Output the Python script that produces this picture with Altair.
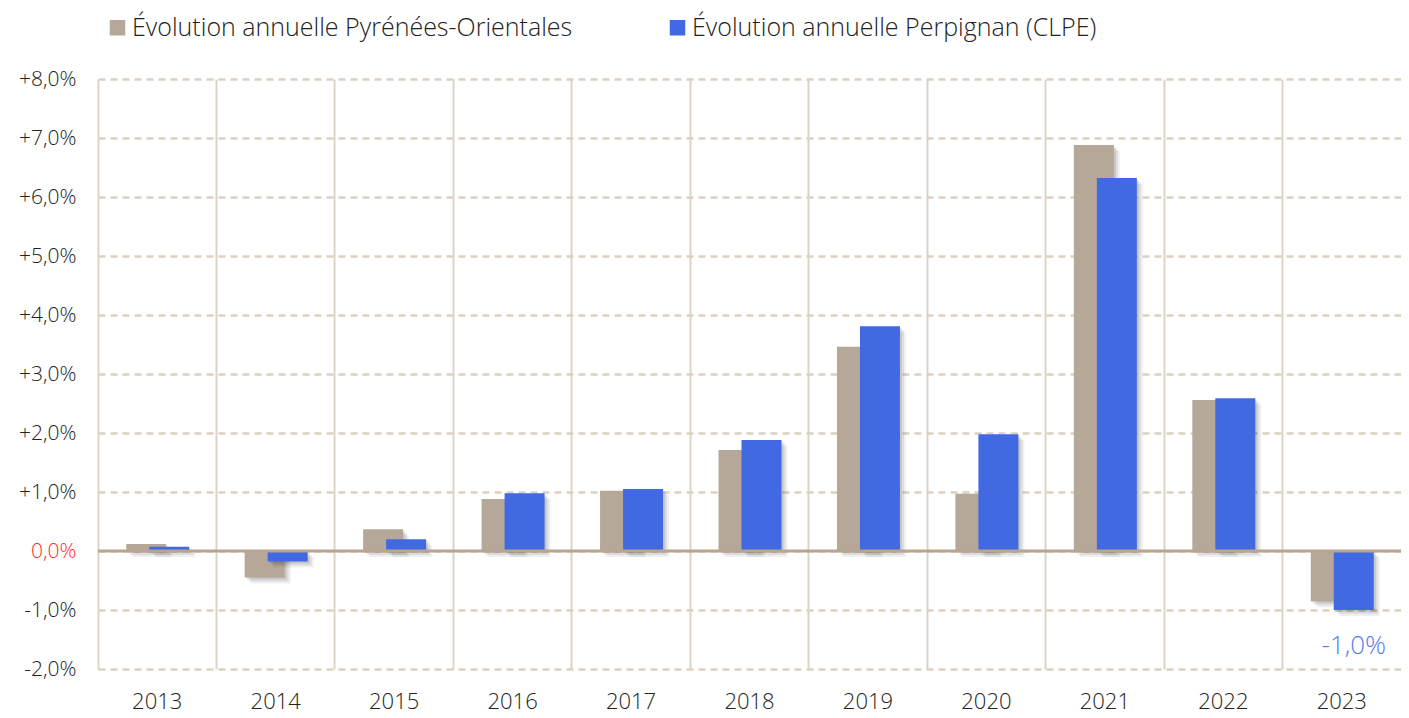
import altair as alt
import pandas as pd

years = [str(y) for y in range(2013, 2024)]
po = [0.12, -0.45, 0.37, 0.88, 1.02, 1.71, 3.46, 0.97, 6.88, 2.56, -0.85]
clpe = [0.07, -0.18, 0.20, 0.98, 1.05, 1.88, 3.81, 1.98, 6.32, 2.59, -1.00]
series = ["Évolution annuelle Pyrénées-Orientales", "Évolution annuelle Perpignan (CLPE)"]
colors = ["#b5a898", "#4169e1"]
y_ticks = list(range(-2, 9))

rows = []
for i, yr in enumerate(years):
    rows.append({"year": yr, "series": series[0], "value": po[i]})
    rows.append({"year": yr, "series": series[1], "value": clpe[i]})
df = pd.DataFrame(rows)

FONT = "Open Sans"
FW = 300
BW = 40
OFF = {series[0]: -11, series[1]: 12}

fmt = "replace(replace(format(datum.value, '.1f'), '.', ','), '\u2212', '-')"

x_enc = alt.X("year:N", sort=years,
              scale=alt.Scale(paddingInner=0, paddingOuter=0),
              axis=alt.Axis(title=None, grid=True, bandPosition=0, gridColor="#ddd3c5",
                            gridWidth=2, ticks=False, domain=False, labelAngle=0,
                            labelFontSize=22, labelPadding=22, labelColor="#222222",
                            labelFont=FONT, labelFontWeight=FW))
y_enc = alt.Y("value:Q", scale=alt.Scale(domain=[-2, 8], nice=False),
              axis=alt.Axis(title=None, values=y_ticks, grid=True, gridDash=[7, 5],
                            gridColor="#ddd1c1", gridWidth=2.5, domain=False, ticks=False,
                            labelFontSize=21, labelPadding=22, labelFont=FONT,
                            labelFontWeight=FW,
                            labelExpr="(datum.value > 0 ? '+' : '') + " + fmt + " + '%'",
                            labelColor=alt.condition("datum.value == 0", alt.value("#ff2a2a"), alt.value("#222222"))))

base = alt.Chart(df)
layers = []
for s in series:
    sub = base.transform_filter(alt.datum.series == s)
    for k, op in [(2, 0.10), (4, 0.08), (6, 0.06)]:
        layers.append(sub.mark_bar(width=BW, xOffset=OFF[s] + k, yOffset=k, color="#000000",
                                   opacity=op).encode(x=x_enc, y=y_enc))
    layers.append(sub.mark_bar(width=BW, xOffset=OFF[s]).encode(
        x=x_enc, y=y_enc,
        color=alt.Color("series:N", scale=alt.Scale(domain=series, range=colors),
                        legend=alt.Legend(title=None, orient="none", legendX=7, legendY=-64,
                                          direction="horizontal", symbolType="square",
                                          symbolSize=240, symbolStrokeWidth=0,
                                          labelFontSize=25, labelFont=FONT,
                                          labelFontWeight=FW, labelLimit=1000,
                                          labelColor="#222222", columnPadding=92,
                                          labelOffset=2))))

zero = alt.Chart(pd.DataFrame({"v": [0]})).mark_rule(color="#b9a68e", strokeWidth=3).encode(y="v:Q")

note = base.transform_filter(
    (alt.datum.series == series[1]) & (alt.datum.year == years[-1])
).transform_calculate(
    label=fmt + " + '%'"
).mark_text(xOffset=OFF[series[1]], dy=36, fontSize=26, color="#5580ea", font=FONT,
            fontWeight=FW).encode(x=x_enc, y=y_enc, text="label:N")

chart = alt.layer(*layers, zero, note).properties(
    width=1303, height=590,
    autosize=alt.AutoSizeParams(type="none"),
    padding={"left": 90, "top": 71, "right": 0, "bottom": 46},
).configure_view(stroke=None)

chart.save("out.html", embed_options={"renderer": "svg", "actions": False})
